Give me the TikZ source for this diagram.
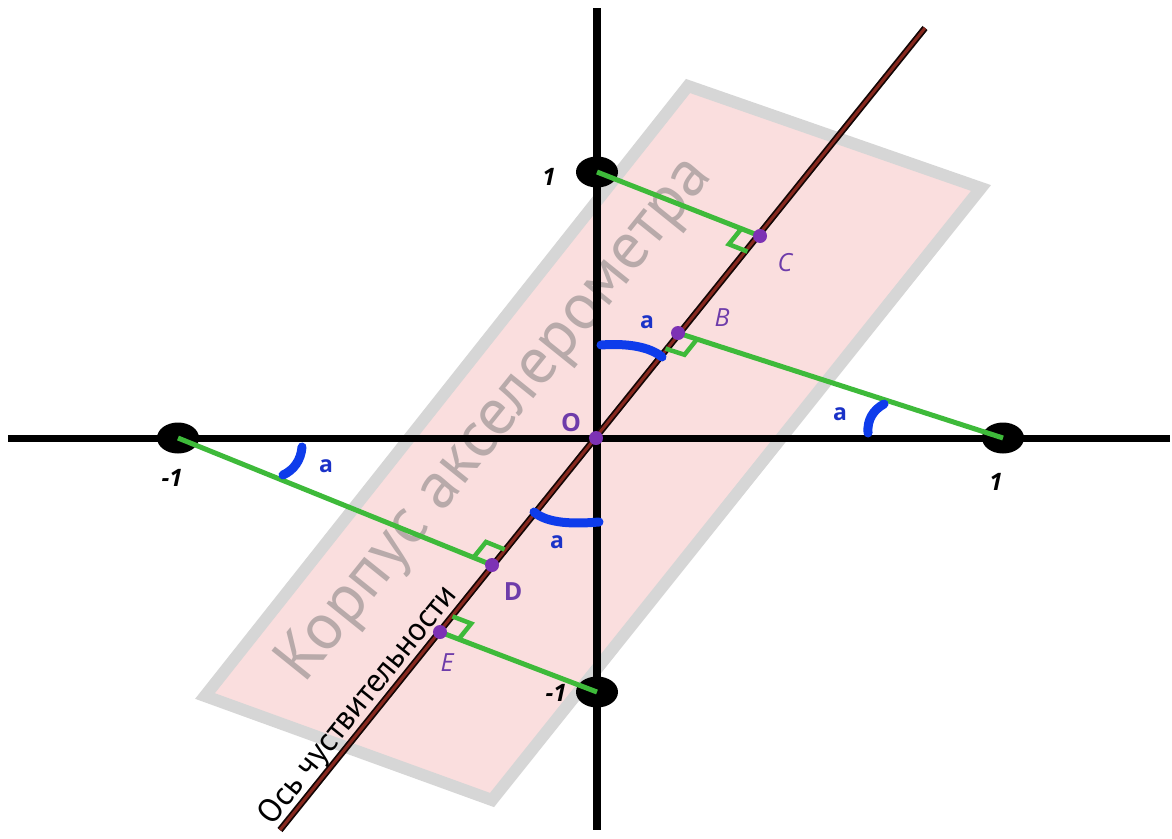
\documentclass[tikz,border=0pt]{standalone}
\usepackage{fontspec}
\setmainfont{Open Sans}
\newfontfamily\narrowfont{PT Sans}
\usetikzlibrary{calc,shapes.geometric}
\definecolor{grn}{RGB}{62,186,58}
\definecolor{arcblue}{RGB}{14,60,235}
\definecolor{lblblue}{RGB}{26,50,200}
\definecolor{purp}{RGB}{125,50,180}
\definecolor{purptxt}{RGB}{110,60,170}
\definecolor{pinkfill}{RGB}{250,222,222}
\definecolor{rimgray}{RGB}{214,214,214}
\definecolor{bodytxt}{RGB}{184,170,170}
\definecolor{axbrown}{RGB}{135,40,30}
\newcommand\rtmark[3]{\draw[sqmark] let \p1=($(#1)!20pt!(#2)$), \p2=($(#1)!20pt!(#3)$), \p3=(#1) in (\p1) -- (\x1+\x2-\x3,\y1+\y2-\y3) -- (\p2);}
\begin{document}
\begin{tikzpicture}[x=1pt,y=-1pt,
  axisline/.style={line width=7pt,black},
  perp/.style={line width=5pt,grn},
  sqmark/.style={line width=4.5pt,grn},
  arcmark/.style={line width=9pt,arcblue,line cap=round},
  pdot/.style={circle,fill=purp,inner sep=0pt,minimum size=14pt},
  udot/.style={ellipse,fill=black,inner sep=0pt,minimum width=42pt,minimum height=31pt},
  numlbl/.style={font=\fontsize{24}{26}\selectfont\itshape\bfseries,black},
  ptlbl/.style={font=\fontsize{25}{27}\selectfont\itshape,purptxt},
  ptlblb/.style={font=\fontsize{25}{27}\selectfont\bfseries,purptxt},
  albl/.style={font=\fontsize{23}{25}\selectfont\bfseries,lblblue}]
\useasboundingbox (0,0) rectangle (1172,838);
\fill[white] (0,0) rectangle (1172,838);
% accelerometer body
\coordinate (r1) at (688,86);
\coordinate (r2) at (981,188);
\coordinate (r3) at (492,800);
\coordinate (r4) at (205,696);
\filldraw[fill=pinkfill,draw=rimgray,line width=12pt,line join=miter] (r1) -- (r2) -- (r3) -- (r4) -- cycle;
\node[bodytxt,rotate=51.2,font=\narrowfont\fontsize{66}{68}\selectfont] (body) at (496,420) {Корпус акселерометра};
% axes
\coordinate (xl) at (8,438);
\coordinate (xr) at (1170,438);
\coordinate (yt) at (597,8);
\coordinate (yb) at (597,830);
\draw[axisline] (xl) -- (xr);
\draw[axisline,line width=8pt] (yt) -- (yb);
% sensitivity axis
\coordinate (sTop) at (925,28);
\coordinate (sBot) at (280,830);
\draw[line width=6.5pt,black!85!axbrown] (sTop) -- (sBot);
\draw[line width=3pt,axbrown] (sTop) -- (sBot);
\node[rotate=51.2,font=\narrowfont\fontsize{33}{35}\selectfont,anchor=base,inner sep=0pt] (sens) at (365,711) {Ось чуствительности};
% unit points
\node[udot] (P1) at (597,172) {};
\node[udot] (Pm1) at (597,692) {};
\node[udot] (Q1) at (1003,438) {};
\node[udot] (Qm1) at (178,438) {};
% feet on the sensitivity axis
\coordinate (C) at (760,236);
\coordinate (B) at (678,333);
\coordinate (O) at (596,438);
\coordinate (D) at (492,565);
\coordinate (E) at (440,632);
% projections
\draw[perp] (P1.center) -- (C);
\draw[perp] (B) -- (Q1.center);
\draw[perp] (Qm1.center) -- (D);
\draw[perp] (E) -- (Pm1.center);
\rtmark{C}{P1.center}{sBot}
\rtmark{B}{Q1.center}{sBot}
\rtmark{D}{Qm1.center}{sTop}
\rtmark{E}{Pm1.center}{sTop}
% angle marks
\draw[arcmark] (601,345) .. controls (628,343) and (650,347) .. (662,357);
\draw[arcmark] (534,512) .. controls (548,524) and (575,524) .. (599,522);
\draw[arcmark] (868,433) .. controls (867,420) and (873,410) .. (884,404);
\draw[arcmark] (283,475) .. controls (294,470) and (301,460) .. (302,447);
% points
\node[pdot] (Cd) at (C) {};
\node[pdot] (Bd) at (B) {};
\node[pdot] (Od) at (O) {};
\node[pdot] (Dd) at (D) {};
\node[pdot] (Ed) at (E) {};
% labels
\node[ptlbl] (Cl) at (785,263) {C};
\node[ptlbl] (Bl) at (722,318) {B};
\node[ptlblb] (Ol) at (571,423) {O};
\node[ptlblb] (Dl) at (513,592) {D};
\node[ptlbl] (El) at (447,663) {E};
\node[numlbl] (P1l) at (549,177) {1};
\node[numlbl] (Pm1l) at (556,693) {-1};
\node[numlbl] (Q1l) at (996,482) {1};
\node[numlbl] (Qm1l) at (172,478) {-1};
\node[albl] (a1) at (647,322) {a};
\node[albl] (a2) at (840,414) {a};
\node[albl] (a3) at (326,466) {a};
\node[albl] (a4) at (557,542) {a};
\end{tikzpicture}
\end{document}
